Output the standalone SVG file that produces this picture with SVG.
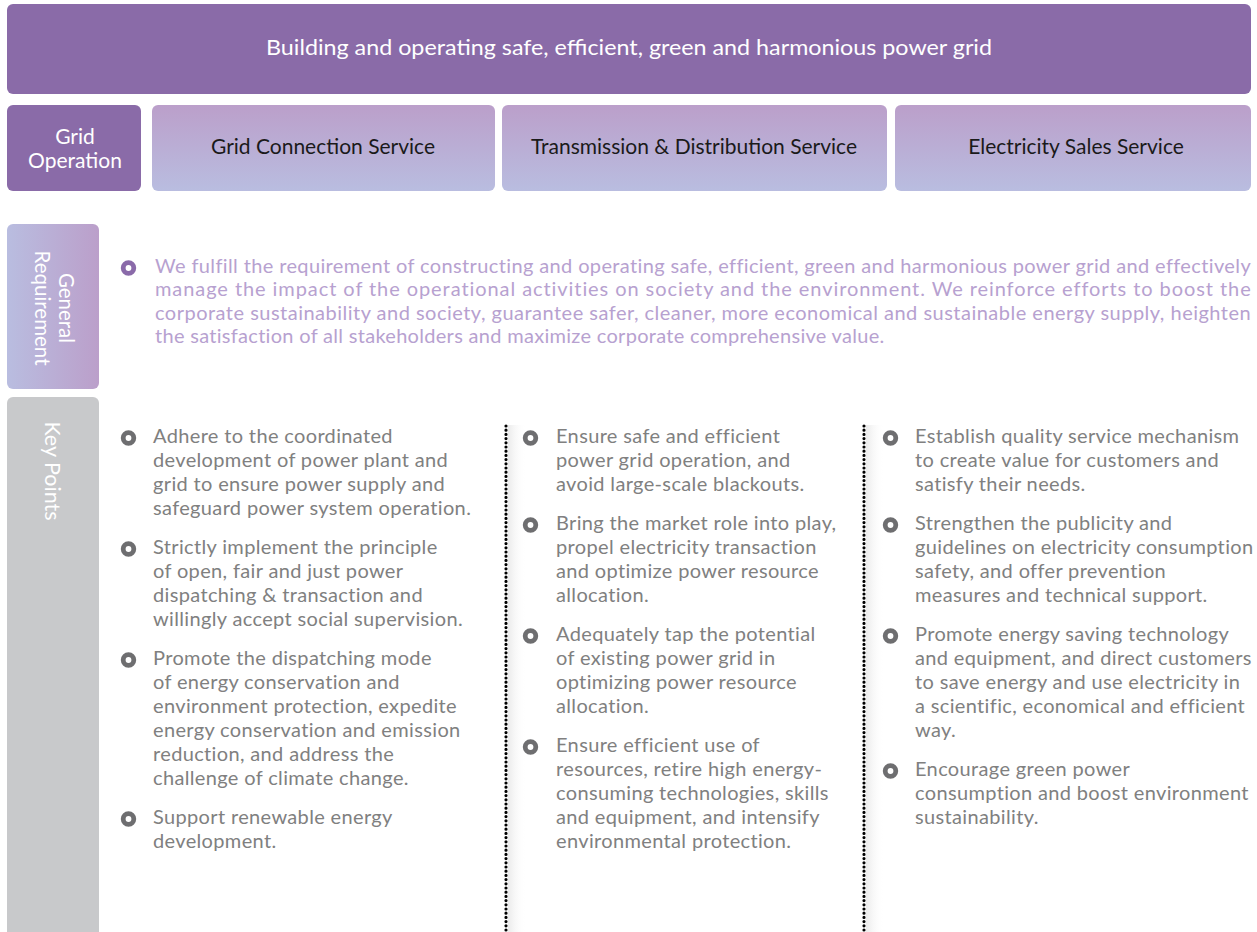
<svg xmlns="http://www.w3.org/2000/svg" width="1257" height="932" viewBox="0 0 1257 932">
<style>
.t{font-family:Lato,"Open Sans","Liberation Sans",sans-serif}
.w{fill:#ffffff}
.hdr{font-size:21px;fill:#1a1a1a}
.gr{font-size:20px;fill:#b7a1d0;letter-spacing:0.3px}
.kp{font-size:20px;fill:#808080;letter-spacing:0.35px}
.bp{fill:none;stroke:#8a6aa9;stroke-width:4.8}
.bg{fill:none;stroke:#6e6e70;stroke-width:4.8}
.dot{stroke:#000;stroke-width:3.2;stroke-linecap:round;stroke-dasharray:0 4.2;fill:none}
</style>
<defs>
<linearGradient id="gv" x1="0" y1="0" x2="0" y2="1"><stop offset="0" stop-color="#bb9fca"/><stop offset="1" stop-color="#b9bde0"/></linearGradient>
<linearGradient id="gh" x1="0" y1="0" x2="1" y2="0"><stop offset="0" stop-color="#b9bde0"/><stop offset="1" stop-color="#bb9fca"/></linearGradient>
<linearGradient id="sh" x1="0" y1="0" x2="1" y2="0"><stop offset="0" stop-color="#ebebeb"/><stop offset="1" stop-color="#ffffff" stop-opacity="0"/></linearGradient>
</defs>
<rect width="1257" height="932" fill="#ffffff"/>

<g id="banner">
<rect x="7" y="4" width="1244" height="90" rx="6" fill="#8a6ba8"/>
<text class="t w" x="266" y="55" font-size="21" textLength="726" lengthAdjust="spacingAndGlyphs">Building and operating safe, efficient, green and harmonious power grid</text>
</g>

<g id="grid-operation">
<rect x="7" y="105" width="134" height="86" rx="6" fill="#8a6ba8"/>
<text class="t w" x="75" y="144" font-size="21" text-anchor="middle">Grid</text>
<text class="t w" x="75" y="168" font-size="21" text-anchor="middle">Operation</text>
</g>
<g id="grid-connection">
<rect x="152" y="105" width="343" height="86" rx="6" fill="url(#gv)"/>
<text class="t hdr" x="323" y="154" text-anchor="middle">Grid Connection Service</text>
</g>
<g id="transmission">
<rect x="502" y="105" width="385" height="86" rx="6" fill="url(#gv)"/>
<text class="t hdr" x="694" y="154" text-anchor="middle">Transmission &amp; Distribution Service</text>
</g>
<g id="sales">
<rect x="895" y="105" width="356" height="86" rx="6" fill="url(#gv)"/>
<text class="t hdr" x="1076" y="154" text-anchor="middle">Electricity Sales Service</text>
</g>

<g id="general-requirement">
<rect x="7" y="224" width="92" height="165" rx="6" fill="url(#gh)"/>
<g transform="translate(53,308) rotate(90)">
<text class="t w" x="0" y="-6" font-size="20.5" text-anchor="middle">General</text>
<text class="t w" x="0" y="18" font-size="20.5" text-anchor="middle">Requirement</text>
</g>
<circle class="bp" cx="128.5" cy="268" r="5.3"/>
<text class="t gr" x="155" y="273" textLength="1096" lengthAdjust="spacing">We fulfill the requirement of constructing and operating safe, efficient, green and harmonious power grid and effectively</text>
<text class="t gr" x="155" y="296" textLength="1096" lengthAdjust="spacing">manage the impact of the operational activities on society and the environment. We reinforce efforts to boost the</text>
<text class="t gr" x="155" y="320" textLength="1096" lengthAdjust="spacing">corporate sustainability and society, guarantee safer, cleaner, more economical and sustainable energy supply, heighten</text>
<text class="t gr" x="155" y="343">the satisfaction of all stakeholders and maximize corporate comprehensive value.</text>
</g>

<g id="key-points">
<rect x="7" y="397" width="92" height="545" rx="6" fill="#c8c9cb"/>
<text class="t w" x="0" y="0" font-size="21.5" text-anchor="middle" transform="translate(45,471) rotate(90)">Key Points</text>
</g>

<g id="connectors">
<rect x="508" y="425" width="18" height="507" fill="url(#sh)"/>
<rect x="866" y="425" width="18" height="507" fill="url(#sh)"/>
<line class="dot" x1="506" y1="426" x2="506" y2="932"/>
<line class="dot" x1="864" y1="426" x2="864" y2="932"/>
</g>

<g id="col-grid-connection" class="t kp">
<circle class="bg" cx="128.5" cy="438" r="5.3"/>
<text x="153" y="443">Adhere to the coordinated</text>
<text x="153" y="467">development of power plant and</text>
<text x="153" y="491">grid to ensure power supply and</text>
<text x="153" y="515">safeguard power system operation.</text>
<circle class="bg" cx="128.5" cy="549" r="5.3"/>
<text x="153" y="554">Strictly implement the principle</text>
<text x="153" y="578">of open, fair and just power</text>
<text x="153" y="602">dispatching &amp; transaction and</text>
<text x="153" y="626">willingly accept social supervision.</text>
<circle class="bg" cx="128.5" cy="660" r="5.3"/>
<text x="153" y="665">Promote the dispatching mode</text>
<text x="153" y="689">of energy conservation and</text>
<text x="153" y="713">environment protection, expedite</text>
<text x="153" y="737">energy conservation and emission</text>
<text x="153" y="761">reduction, and address the</text>
<text x="153" y="785">challenge of climate change.</text>
<circle class="bg" cx="128.5" cy="819" r="5.3"/>
<text x="153" y="824">Support renewable energy</text>
<text x="153" y="848">development.</text>
</g>

<g id="col-transmission" class="t kp">
<circle class="bg" cx="530.5" cy="438" r="5.3"/>
<text x="556" y="443">Ensure safe and efficient</text>
<text x="556" y="467">power grid operation, and</text>
<text x="556" y="491">avoid large-scale blackouts.</text>
<circle class="bg" cx="530.5" cy="525" r="5.3"/>
<text x="556" y="530">Bring the market role into play,</text>
<text x="556" y="554">propel electricity transaction</text>
<text x="556" y="578">and optimize power resource</text>
<text x="556" y="602">allocation.</text>
<circle class="bg" cx="530.5" cy="636" r="5.3"/>
<text x="556" y="641">Adequately tap the potential</text>
<text x="556" y="665">of existing power grid in</text>
<text x="556" y="689">optimizing power resource</text>
<text x="556" y="713">allocation.</text>
<circle class="bg" cx="530.5" cy="747" r="5.3"/>
<text x="556" y="752">Ensure efficient use of</text>
<text x="556" y="776">resources, retire high energy-</text>
<text x="556" y="800">consuming technologies, skills</text>
<text x="556" y="824">and equipment, and intensify</text>
<text x="556" y="848">environmental protection.</text>
</g>

<g id="col-sales" class="t kp">
<circle class="bg" cx="890.5" cy="438" r="5.3"/>
<text x="915" y="443">Establish quality service mechanism</text>
<text x="915" y="467">to create value for customers and</text>
<text x="915" y="491">satisfy their needs.</text>
<circle class="bg" cx="890.5" cy="525" r="5.3"/>
<text x="915" y="530">Strengthen the publicity and</text>
<text x="915" y="554">guidelines on electricity consumption</text>
<text x="915" y="578">safety, and offer prevention</text>
<text x="915" y="602">measures and technical support.</text>
<circle class="bg" cx="890.5" cy="636" r="5.3"/>
<text x="915" y="641">Promote energy saving technology</text>
<text x="915" y="665">and equipment, and direct customers</text>
<text x="915" y="689">to save energy and use electricity in</text>
<text x="915" y="713">a scientific, economical and efficient</text>
<text x="915" y="737">way.</text>
<circle class="bg" cx="890.5" cy="771" r="5.3"/>
<text x="915" y="776">Encourage green power</text>
<text x="915" y="800">consumption and boost environment</text>
<text x="915" y="824">sustainability.</text>
</g>
</svg>
